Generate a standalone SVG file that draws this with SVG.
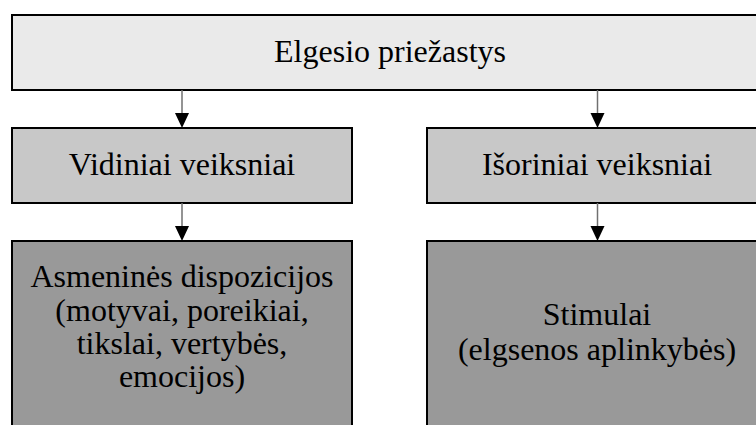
<svg xmlns="http://www.w3.org/2000/svg" width="756" height="425" viewBox="0 0 756 425">
<style>
.box{stroke:#000;stroke-width:2}
.l1{fill:#eaeaea}
.l2{fill:#c8c8c8}
.l3{fill:#999999}
.t{font-size:32px;fill:#000;text-anchor:middle}
.conn line{stroke:#707070;stroke-width:1.5}
.conn path{fill:#000}
</style>
<rect width="756" height="425" fill="#fff"/>
<g font-family="'Liberation Serif', 'Times New Roman', serif">
<g id="top">
<rect class="box l1" x="12" y="15" width="756" height="75"/>
<text class="t" x="390" y="62">Elgesio priežastys</text>
</g>
<g id="internal">
<rect class="box l2" x="12" y="128" width="340" height="75"/>
<text class="t" x="182" y="175">Vidiniai veiksniai</text>
</g>
<g id="external">
<rect class="box l2" x="427" y="128" width="340" height="75"/>
<text class="t" x="597" y="175">Išoriniai veiksniai</text>
</g>
<g id="dispositions">
<rect class="box l3" x="12" y="241" width="340" height="200"/>
<text class="t" x="182" y="287">Asmeninės dispozicijos</text>
<text class="t" x="182" y="321">(motyvai, poreikiai,</text>
<text class="t" x="182" y="354">tikslai, vertybės,</text>
<text class="t" x="182" y="387">emocijos)</text>
</g>
<g id="stimuli">
<rect class="box l3" x="427" y="241" width="340" height="200"/>
<text class="t" x="597" y="325">Stimulai</text>
<text class="t" x="597" y="360">(elgsenos aplinkybės)</text>
</g>
</g>
<g class="conn">
<line x1="182" y1="90" x2="182" y2="114"/>
<path d="M175,113 L189,113 L182,128 Z"/>
<line x1="597.5" y1="90" x2="597.5" y2="114"/>
<path d="M590.5,113 L604.5,113 L597.5,128 Z"/>
<line x1="182" y1="203" x2="182" y2="227"/>
<path d="M175,226 L189,226 L182,241 Z"/>
<line x1="597.5" y1="203" x2="597.5" y2="227"/>
<path d="M590.5,226 L604.5,226 L597.5,241 Z"/>
</g>
</svg>
